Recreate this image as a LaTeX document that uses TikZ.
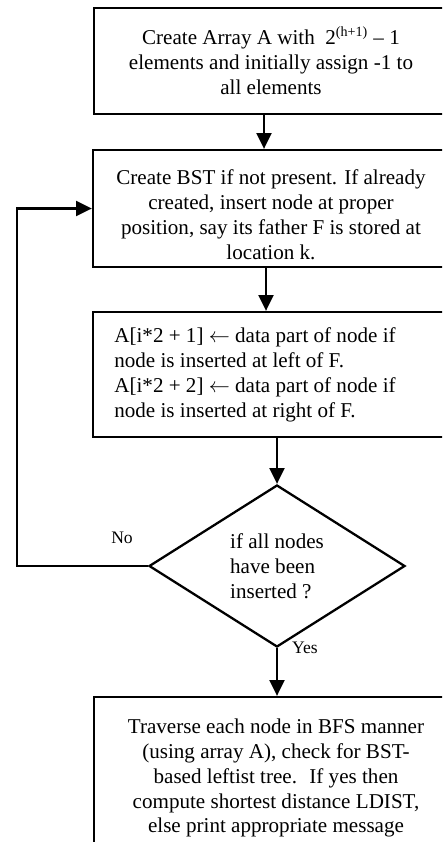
\documentclass[tikz,border=0pt]{standalone}
\usepackage{fontspec}
\setmainfont{Liberation Serif}
\usetikzlibrary{arrows.meta,shapes.geometric}
\def\pxu{0.569pt}
\begin{document}
\begin{tikzpicture}[x=0.569pt,y=-0.569pt,
  mainfont/.style={font=\fontsize{12pt}{14.2pt}\selectfont},
  box/.style={draw, line width=1.3pt, inner sep=0pt},
  txt/.style={inner sep=0pt, align=center, mainfont},
  ltxt/.style={inner sep=0pt, align=left, anchor=west, mainfont},
  decision/.style={draw, diamond, line width=1.3pt, inner sep=0pt, align=left, mainfont},
  lbl/.style={font=\fontsize{10pt}{12pt}\selectfont, inner sep=0pt},
  arr/.style={line width=1.3pt, -{Triangle[length=9pt,width=8.5pt]}}]
\path[use as bounding box, fill=white] (0,0) rectangle (442,842);
\clip (0,0) rectangle (442,842);

\node[box, minimum width=376*\pxu, minimum height=106*\pxu] (b1) at (282,61) {};
\node[txt] (b1t) at (271,61)
  {Create Array A with \ 2\textsuperscript{(h+1)} -- 1\\elements and initially assign -1 to\\all elements};

\node[box, minimum width=377*\pxu, minimum height=117*\pxu] (b2) at (281.5,208.5) {};
\node[txt] (b2t) at (271,214.5)
  {Create BST if not present. If already\\created, insert node at proper\\position, say its father F is stored at\\location k.};

\node[box, minimum width=377*\pxu, minimum height=125*\pxu] (b3) at (281.5,374.5) {};
\node[ltxt] (b3t) at (114,374.5)
  {A[i*2 + 1] $\leftarrow$ data part of node if\\node is inserted at left of F.\\A[i*2 + 2] $\leftarrow$ data part of node if\\node is inserted at right of F.};

\node[decision, minimum width=256*\pxu, minimum height=162*\pxu] (d) at (277,566)
  {if all nodes\\have been\\inserted ?};

\node[box, minimum width=376*\pxu, minimum height=162*\pxu] (b4) at (282,778) {};
\node[txt] (b4t) at (276,778)
  {Traverse each node in BFS manner\\(using array A), check for BST-\\based leftist tree.~ If yes then\\compute shortest distance LDIST,\\else print appropriate message};

\node[lbl] (no) at (122,538) {No};
\node[lbl] (yes) at (305,648) {Yes};
\coordinate (loop) at (17,566);
\coordinate (a1) at (264,0);
\coordinate (a2) at (266,0);

\draw[arr] (b1.south -| a1) -- (b2.north -| a1);
\draw[arr] (b2.south -| a2) -- (b3.north -| a2);
\draw[arr] (b3.south -| d.north) -- (d.north);
\draw[arr] (d.south) -- (d.south |- b4.north);
\draw[arr] (d.west) -- (d.west -| loop) |- (b2.west);
\end{tikzpicture}
\end{document}
